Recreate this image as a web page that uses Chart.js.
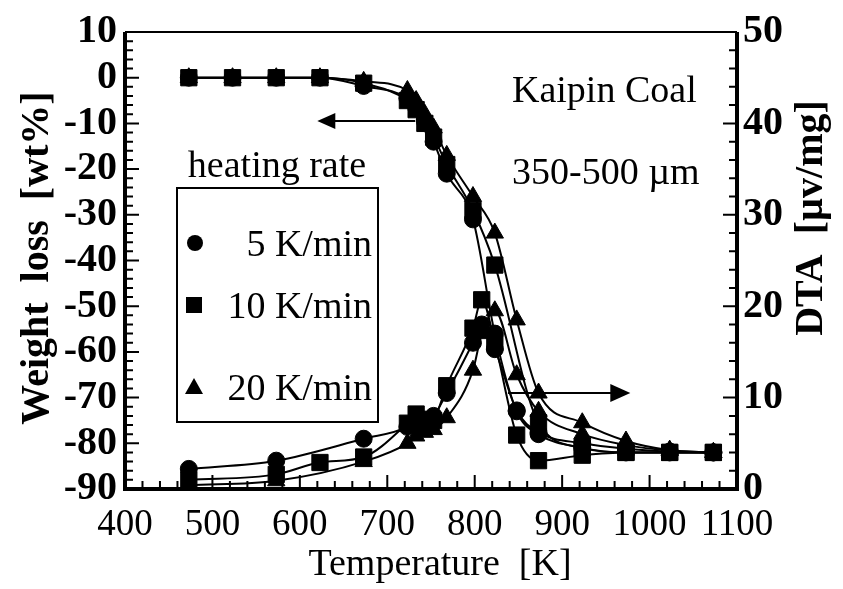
<!DOCTYPE html>
<html><head><meta charset="utf-8">
<script src="https://cdn.jsdelivr.net/npm/chart.js@4.4.0/dist/chart.umd.min.js"></script>
<style>html,body{margin:0;padding:0;background:#fff;}canvas{display:block;}</style>
</head><body>
<canvas id="c" width="843" height="589"></canvas>
<script>
// ---- data ----
const temperatureTG = [473, 523, 573, 623, 673, 723, 733, 743, 753, 768, 798, 823, 848, 873, 923, 973, 1023, 1073];
const tg5  = [0, 0, 0, 0, -1.8, -4.5, -6.5, -9.5, -14, -21, -31, -56, -73, -78, -81, -82, -82, -82];
const tg10 = [0, 0, 0, 0, -1.2, -5, -7, -10, -13, -19, -29, -41, null, -75.5, -81, -82, -82, -82];
const tg20 = [0, 0, 0, 0, -0.8, -2.8, -5, -8, -11, -17, -26, -34, -53, -69, -75.5, -79.5, -81.5, -82];

const temperatureDTA = [473, 573, 623, 673, 723, 733, 743, 753, 768, 798, 808, 823, 848, 873, 923, 973, 1023, 1073];
const dta5  = [2.2, 3.1, null, 5.5, 6.8, 7.5, 7.6, 8.0, 10.5, 16.0, 18.0, 15.3, 8.6, 6.2, 5.0, 4.4, 4.1, 4.0];
const dta10 = [1.0, 1.6, 2.9, 3.5, 7.2, 8.2, 7.0, 7.5, 11.3, 17.6, 20.7, 16.0, 5.9, 3.1, 3.7, 4.0, 4.0, 4.0];
const dta20 = [0.4, 0.9, null, 3.0, 5.0, 5.8, 6.2, 6.5, 7.8, 13.0, 17.0, 19.5, 12.5, 8.5, 6.0, 4.8, 4.2, 4.0];

const seriesLabels = ['5 K/min', '10 K/min', '20 K/min'];
const xTicks = [400, 500, 600, 700, 800, 900, 1000, 1100];
const yLeftTicks = [10, 0, -10, -20, -30, -40, -50, -60, -70, -80, -90];
const yRightTicks = [50, 40, 30, 20, 10, 0];

const FONT = "'Liberation Serif', 'DejaVu Serif', serif";

function pts(xs, ys) {
  return xs.map((x, i) => ({x: x, y: ys[i]}));
}
function ds(label, xs, ys, axis, style, r) {
  return {
    label: label, data: pts(xs, ys), yAxisID: axis, showLine: true,
    borderColor: '#000', backgroundColor: '#000', borderWidth: 2,
    pointStyle: style, pointRadius: r, pointBackgroundColor: '#000',
    pointBorderColor: '#000', pointBorderWidth: 1, spanGaps: true,
    cubicInterpolationMode: 'monotone'
  };
}

const decor = {
  id: 'decor',
  afterDraw(chart) {
    const ctx = chart.ctx, a = chart.chartArea;
    const sx = chart.scales.x, sy = chart.scales.y, sy2 = chart.scales.y2;
    ctx.save();
    ctx.strokeStyle = '#000'; ctx.fillStyle = '#000';
    // inward ticks
    ctx.lineWidth = 2;
    ctx.beginPath();
    for (let v = -90; v <= 10; v += 2) {
      const p = sy.getPixelForValue(v); const L = (v % 10 === 0) ? 14 : 8;
      ctx.moveTo(a.left, p); ctx.lineTo(a.left + L, p);
    }
    for (let v = 0; v <= 50; v += 2) {
      const p = sy2.getPixelForValue(v); const L = (v % 10 === 0) ? 14 : 8;
      ctx.moveTo(a.right, p); ctx.lineTo(a.right - L, p);
    }
    for (let v = 400; v <= 1100; v += 20) {
      const p = sx.getPixelForValue(v); const L = (v % 100 === 0) ? 14 : 8;
      ctx.moveTo(p, a.bottom); ctx.lineTo(p, a.bottom - L);
    }
    ctx.stroke();
    // frame
    ctx.lineWidth = 4;
    ctx.beginPath();
    ctx.moveTo(a.left, a.top); ctx.lineTo(a.left, a.bottom); ctx.lineTo(a.right, a.bottom); ctx.lineTo(a.right, a.top);
    ctx.stroke();
    ctx.lineWidth = 2;
    ctx.beginPath(); ctx.moveTo(a.left, a.top); ctx.lineTo(a.right, a.top); ctx.stroke();

    // arrows
    ctx.lineWidth = 2;
    let ay = sy.getPixelForValue(-9.5), ax1 = sx.getPixelForValue(732), ax0 = sx.getPixelForValue(620);
    ctx.beginPath(); ctx.moveTo(ax1, ay); ctx.lineTo(ax0 + 14, ay); ctx.stroke();
    ctx.beginPath(); ctx.moveTo(ax0, ay); ctx.lineTo(ax0 + 18, ay - 8); ctx.lineTo(ax0 + 18, ay + 8); ctx.closePath(); ctx.fill();
    ay = sy2.getPixelForValue(10.5); ax0 = sx.getPixelForValue(838); ax1 = sx.getPixelForValue(978);
    ctx.beginPath(); ctx.moveTo(ax0, ay); ctx.lineTo(ax1 - 14, ay); ctx.stroke();
    ctx.beginPath(); ctx.moveTo(ax1, ay); ctx.lineTo(ax1 - 20, ay - 9); ctx.lineTo(ax1 - 20, ay + 9); ctx.closePath(); ctx.fill();

    // annotation texts
    ctx.font = '38px ' + FONT;
    ctx.textBaseline = 'alphabetic';
    ctx.textAlign = 'left';
    ctx.fillText('Kaipin Coal', 512, 102);
    ctx.fillText('350-500 \u00b5m', 512, 184);
    ctx.textAlign = 'center';
    ctx.fillText('heating rate', 277, 177);

    // legend box
    ctx.lineWidth = 2;
    ctx.strokeRect(177, 188, 201, 234);
    ctx.textAlign = 'right';
    ctx.fillText(seriesLabels[0], 372, 256);
    ctx.fillText(seriesLabels[1], 372, 318);
    ctx.fillText(seriesLabels[2], 372, 400);
    ctx.beginPath(); ctx.arc(195, 243, 8, 0, Math.PI * 2); ctx.fill();
    ctx.fillRect(186, 297, 16, 16);
    ctx.beginPath(); ctx.moveTo(194, 378); ctx.lineTo(203, 394); ctx.lineTo(185, 394); ctx.closePath(); ctx.fill();

    // axis titles
    ctx.textAlign = 'center'; ctx.textBaseline = 'middle';
    ctx.font = '38px ' + FONT;
    ctx.fillText('Temperature  [K]', 440, 565);
    ctx.font = 'bold 40px ' + FONT;
    ctx.save(); ctx.translate(38, 258); ctx.rotate(-Math.PI / 2); ctx.fillText('Weight  loss  [wt%]', 0, 0); ctx.restore();
    ctx.save(); ctx.translate(812, 218); ctx.rotate(-Math.PI / 2); ctx.fillText('DTA  [\u00b5v/mg]', 0, 0); ctx.restore();
    ctx.restore();
  }
};

const plain = v => String(v);

new Chart(document.getElementById('c'), {
  type: 'scatter',
  data: {
    datasets: [
      ds('TG ' + seriesLabels[1], temperatureTG, tg10, 'y', 'rect', 11.5),
      ds('DTA ' + seriesLabels[1], temperatureDTA, dta10, 'y2', 'rect', 11.5),
      ds('TG ' + seriesLabels[0], temperatureTG, tg5, 'y', 'circle', 8.5),
      ds('DTA ' + seriesLabels[0], temperatureDTA, dta5, 'y2', 'circle', 8.5),
      ds('TG ' + seriesLabels[2], temperatureTG, tg20, 'y', 'triangle', 10),
      ds('DTA ' + seriesLabels[2], temperatureDTA, dta20, 'y2', 'triangle', 10)
    ]
  },
  options: {
    responsive: false, animation: false, devicePixelRatio: 1,
    layout: {padding: {top: 28, left: 0, right: 0, bottom: 0}},
    plugins: {legend: {display: false}, tooltip: {enabled: false}, title: {display: false}},
    scales: {
      x: {
        type: 'linear', position: 'bottom', min: 400, max: 1100,
        afterBuildTicks: s => { s.ticks = xTicks.map(v => ({value: v})); },
        ticks: {font: {family: FONT, size: 37}, color: '#000', padding: 14, maxRotation: 0, autoSkip: false, callback: plain},
        grid: {display: false, drawTicks: false}, border: {display: false},
        afterFit: s => { s.height = 100; }
      },
      y: {
        type: 'linear', position: 'left', min: -90, max: 10,
        afterBuildTicks: s => { s.ticks = yLeftTicks.map(v => ({value: v})); },
        ticks: {font: {family: FONT, size: 40, weight: 'bold'}, color: '#000', padding: 8, autoSkip: false, callback: plain},
        grid: {display: false, drawTicks: false}, border: {display: false},
        afterFit: s => { s.width = 125; }
      },
      y2: {
        type: 'linear', position: 'right', min: 0, max: 50,
        afterBuildTicks: s => { s.ticks = yRightTicks.map(v => ({value: v})); },
        ticks: {font: {family: FONT, size: 40, weight: 'bold'}, color: '#000', padding: 6, autoSkip: false, callback: plain},
        grid: {display: false, drawTicks: false}, border: {display: false},
        afterFit: s => { s.width = 106; }
      }
    }
  },
  plugins: [decor]
});
</script>
</body></html>
